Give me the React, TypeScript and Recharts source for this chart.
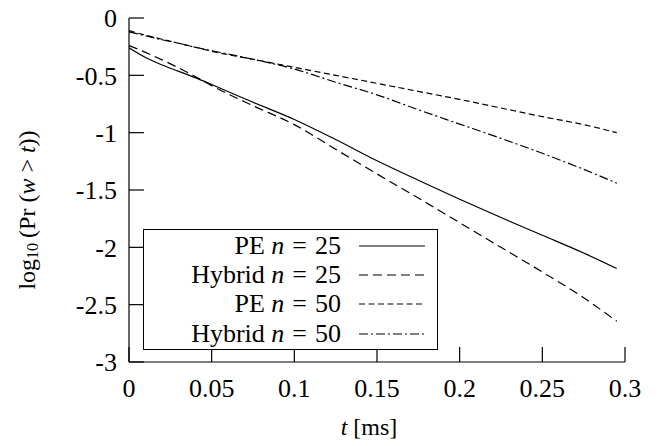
import { LineChart, Line, XAxis, YAxis, Legend, Label } from "recharts";

// time in ms and log10 of the tail probability for each scheme
const tMs = [0, 0.01, 0.02, 0.03, 0.04, 0.05, 0.075, 0.1, 0.125, 0.15, 0.175, 0.2, 0.225, 0.25, 0.275, 0.295];
const pe25 = [-0.26, -0.345, -0.41, -0.465, -0.52, -0.58, -0.735, -0.885, -1.06, -1.245, -1.415, -1.58, -1.74, -1.895, -2.05, -2.185];
const hybrid25 = [-0.24, -0.3, -0.365, -0.435, -0.51, -0.59, -0.765, -0.93, -1.145, -1.36, -1.57, -1.785, -2.0, -2.215, -2.44, -2.645];
const pe50 = [-0.11, -0.15, -0.185, -0.22, -0.255, -0.29, -0.36, -0.43, -0.5, -0.57, -0.64, -0.71, -0.785, -0.86, -0.93, -1.0];
const hybrid50 = [-0.12, -0.155, -0.19, -0.22, -0.255, -0.285, -0.36, -0.445, -0.56, -0.67, -0.8, -0.925, -1.05, -1.18, -1.32, -1.44];

const xTicks = [0, 0.05, 0.1, 0.15, 0.2, 0.25, 0.3];
const yTicks = [0, -0.5, -1, -1.5, -2, -2.5, -3];

const series = [
  { key: "pe25", label: "PE", n: 25, dash: undefined },
  { key: "hybrid25", label: "Hybrid", n: 25, dash: "9 5" },
  { key: "pe50", label: "PE", n: 50, dash: "6 3.5" },
  { key: "hybrid50", label: "Hybrid", n: 50, dash: "9 3 2 3" },
];

const data = tMs.map((t, i) => ({
  t,
  pe25: pe25[i],
  hybrid25: hybrid25[i],
  pe50: pe50[i],
  hybrid50: hybrid50[i],
}));

const FONT = "'Liberation Serif', 'Times New Roman', serif";
const FONT_SIZE = 26;
const TITLE_SIZE = 24;
const INK = "#000";

const YTitle = ({ viewBox }: any) => {
  const cx = viewBox.x + 27;
  const cy = viewBox.y + viewBox.height / 2 + 20;
  return (
    <text
      x={cx}
      y={cy}
      transform={`rotate(-90 ${cx} ${cy})`}
      textAnchor="middle"
      dominantBaseline="central"
      fontFamily={FONT}
      fontSize={TITLE_SIZE}
      fill={INK}
    >
      log
      <tspan dy={5} fontSize={16}>10</tspan>
      <tspan dy={-5} dx={5}>(Pr (</tspan>
      <tspan fontStyle="italic">w</tspan>
      <tspan> &gt; </tspan>
      <tspan fontStyle="italic">t</tspan>
      <tspan>))</tspan>
    </text>
  );
};

const XTitle = ({ viewBox }: any) => (
  <text
    x={viewBox.x + viewBox.width / 2 - 8}
    y={viewBox.y + 73}
    textAnchor="middle"
    fontFamily={FONT}
    fontSize={TITLE_SIZE}
    fill={INK}
  >
    <tspan fontStyle="italic">t</tspan>
    <tspan dx={6}>[ms]</tspan>
  </text>
);

const LegendBox = () => (
  <div
    style={{
      border: `1.2px solid ${INK}`,
      background: "#fff",
      width: 293,
      padding: "1px 0",
      fontFamily: FONT,
      fontSize: FONT_SIZE,
      color: INK,
    }}
  >
    {series.map((s) => (
      <div key={s.key} style={{ display: "flex", alignItems: "center", height: 29.3 }}>
        <div style={{ width: 197, textAlign: "right", whiteSpace: "nowrap" }}>
          {s.label} <i>n</i>
          <span style={{ margin: "0 8px" }}>=</span>
          {s.n}
        </div>
        <svg width={70} height={10} style={{ marginLeft: 18 }}>
          <line x1={0} y1={5} x2={66} y2={5} stroke={INK} strokeWidth={1.2} strokeDasharray={s.dash} />
        </svg>
      </div>
    ))}
  </div>
);

export default function App() {
  return (
    <div style={{ position: "absolute", left: 0, top: 0, background: "#fff" }}>
      <LineChart width={659} height={446} data={data} margin={{ top: 18, right: 34, bottom: 0, left: 0 }}>
        <XAxis
          dataKey="t"
          type="number"
          domain={[0, 0.3]}
          ticks={xTicks}
          height={84}
          stroke={INK}
          strokeWidth={1.2}
          tickSize={-15}
          tickMargin={32}
          tick={{ fill: INK, fontFamily: FONT, fontSize: FONT_SIZE }}
          allowDataOverflow
        >
          <Label content={<XTitle />} />
        </XAxis>
        <XAxis
          xAxisId="top"
          orientation="top"
          type="number"
          domain={[0, 0.3]}
          ticks={xTicks}
          height={0}
          stroke={INK}
          strokeWidth={1.2}
          tickSize={-15}
          tick={false}
          allowDataOverflow
        />
        <YAxis
          type="number"
          domain={[-3, 0]}
          ticks={yTicks}
          width={129}
          stroke={INK}
          strokeWidth={1.2}
          tickSize={-15}
          tickMargin={27}
          tick={{ fill: INK, fontFamily: FONT, fontSize: FONT_SIZE }}
          allowDataOverflow
        >
          <Label content={<YTitle />} />
        </YAxis>
        <YAxis
          yAxisId="right"
          orientation="right"
          type="number"
          domain={[-3, 0]}
          ticks={yTicks}
          width={0}
          stroke={INK}
          strokeWidth={1.2}
          tickSize={-15}
          tick={false}
          allowDataOverflow
        />
        <Legend
          layout="vertical"
          align="center"
          verticalAlign="middle"
          content={<LegendBox />}
          wrapperStyle={{ left: 143, top: 229, width: "auto" }}
        />
        {series.map((s) => (
          <Line
            key={s.key}
            dataKey={s.key}
            type="monotone"
            stroke={INK}
            strokeWidth={1.2}
            strokeDasharray={s.dash}
            dot={false}
            activeDot={false}
            isAnimationActive={false}
          />
        ))}
      </LineChart>
    </div>
  );
}
